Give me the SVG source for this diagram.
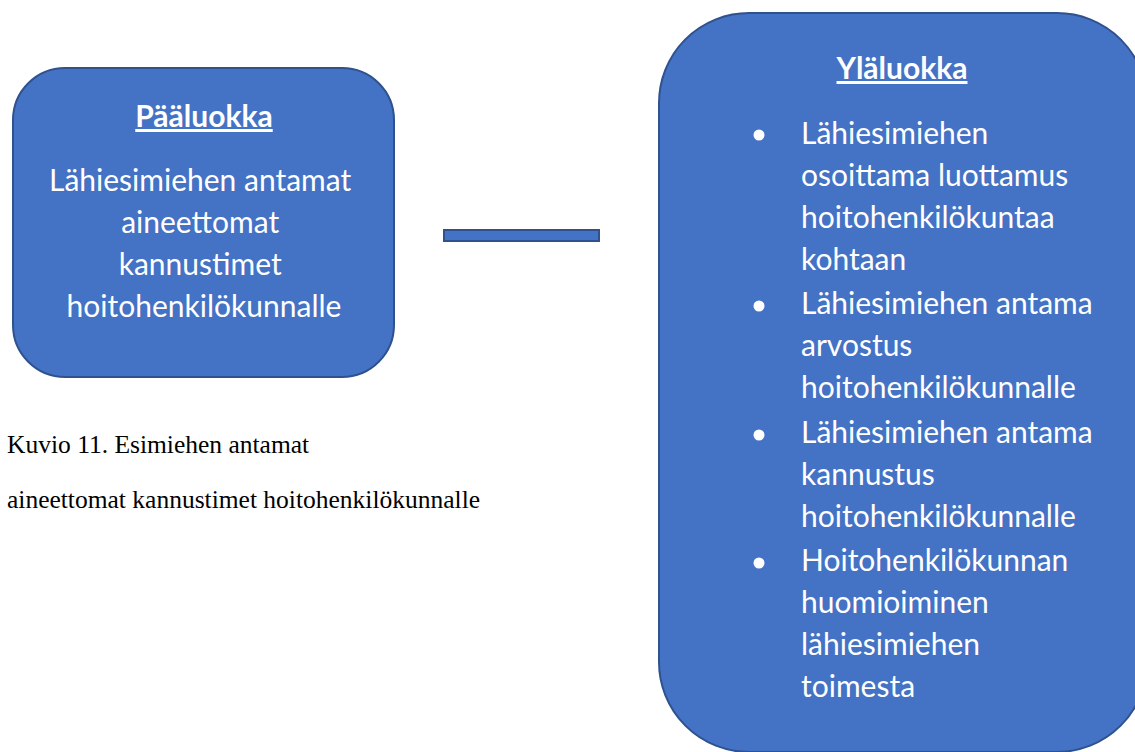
<svg xmlns="http://www.w3.org/2000/svg" width="1135" height="752" viewBox="0 0 1135 752">
<style>
.box{fill:#4472C4;stroke:#2F528F;stroke-width:2}
.t{font-family:Lato,"Open Sans",sans-serif;font-size:30px;fill:#fff}
.h{font-family:Lato,"Open Sans",sans-serif;font-size:30px;font-weight:bold;fill:#fff;text-decoration:underline}
.c{font-family:"Liberation Serif","Times New Roman",serif;font-size:25.5px;fill:#000}
.b{fill:#fff}
</style>
<rect width="1135" height="752" fill="#fff"/>
<g id="connectors">
<rect x="444" y="230" width="155" height="11" fill="#4472C4" stroke="#2F528F" stroke-width="2"/>
</g>
<g id="paaluokka">
<rect class="box" x="13" y="68" width="381" height="309" rx="52" ry="52"/>
<text class="h" x="204" y="127" text-anchor="middle">Pääluokka</text>
<text class="t" text-anchor="middle" x="204">
<tspan x="204" y="191">Lähiesimiehen antamat</tspan>
<tspan x="204" y="233">aineettomat</tspan>
<tspan x="204" y="275">kannustimet</tspan>
<tspan x="204" y="317">hoitohenkilökunnalle</tspan>
</text>
</g>
<g id="ylaluokka">
<rect class="box" x="659" y="13" width="488" height="739" rx="90" ry="90"/>
<text class="h" x="902" y="79" text-anchor="middle">Yläluokka</text>
<circle class="b" cx="759" cy="135" r="5.5"/>
<circle class="b" cx="759" cy="306" r="5.5"/>
<circle class="b" cx="759" cy="435" r="5.5"/>
<circle class="b" cx="759" cy="563" r="5.5"/>
<text class="t">
<tspan x="801" y="144">Lähiesimiehen</tspan>
<tspan x="801" y="186">osoittama luottamus</tspan>
<tspan x="801" y="228">hoitohenkilökuntaa</tspan>
<tspan x="801" y="270">kohtaan</tspan>
<tspan x="801" y="314">Lähiesimiehen antama</tspan>
<tspan x="801" y="356">arvostus</tspan>
<tspan x="801" y="398">hoitohenkilökunnalle</tspan>
<tspan x="801" y="443">Lähiesimiehen antama</tspan>
<tspan x="801" y="485">kannustus</tspan>
<tspan x="801" y="527">hoitohenkilökunnalle</tspan>
<tspan x="801" y="571">Hoitohenkilökunnan</tspan>
<tspan x="801" y="613">huomioiminen</tspan>
<tspan x="801" y="655">lähiesimiehen</tspan>
<tspan x="801" y="697">toimesta</tspan>
</text>
</g>
<g id="caption">
<text class="c" x="7" y="453">Kuvio 11. Esimiehen antamat</text>
<text class="c" x="7" y="508">aineettomat kannustimet hoitohenkilökunnalle</text>
</g>
</svg>
